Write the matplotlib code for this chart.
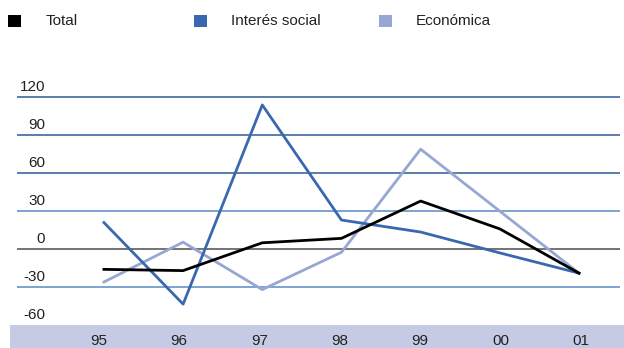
import numpy as np
import matplotlib
matplotlib.use("Agg")
import matplotlib.pyplot as plt
from matplotlib.patches import Rectangle

plt.rcParams['font.family'] = ['Liberation Sans', 'DejaVu Sans']

# ── data ───────────────────────────────────────────────────────────────────────
years = ['95', '96', '97', '98', '99', '00', '01']
total = [-16, -17, 5, 8.5, 38, 16, -19]
interes_social = [21, -43.5, 114, 23, 13.5, -3, -19]
economica = [-26, 5.5, -32, -2.5, 79, 30, -19]
y_ticks = [120, 90, 60, 30, 0, -30, -60]

C_TOTAL = "black"
C_SOCIAL = "#3a68b0"
C_ECON = "#97a6d3"
C_BAND = "#c5cbe4"
C_TEXT = "#222222"

W, H = 624, 348
fig = plt.figure(figsize=(W / 100, H / 100), dpi=100)

# axis band along the bottom (kept behind the axes)
fig.patches.append(Rectangle((10 / W, 0), 1 - 10 / W, 23 / H, transform=fig.transFigure,
                             facecolor=C_BAND, edgecolor="none", zorder=-1))

ax = fig.add_axes([17 / W, 1 - 325 / H, 603 / W, (325 - 84.7) / H])
ax.set_facecolor("none")
for s in ax.spines.values():
    s.set_visible(False)

x = np.arange(len(years))
ax.set_xlim(-1.098, 6.518)
ax.set_ylim(-60, 130)

# horizontal reference lines
grid_col = {120: "#2d5a96", 90: "#2d5a96", 60: "#2d5a96", 30: "#5b8ac6",
            0: "#4d4d4d", -30: "#5b8ac6"}
for v, c in grid_col.items():
    ax.axhline(v, color=c, linewidth=1.1, zorder=1)

ax.plot(x, economica, color=C_ECON, linewidth=2.0, zorder=3)
ax.plot(x, interes_social, color=C_SOCIAL, linewidth=2.0, zorder=4)
ax.plot(x, total, color=C_TOTAL, linewidth=2.0, zorder=5)
ax.set_xticks([])
ax.set_yticks([])

# year labels inside the band, on their own slightly wider category scale
ax_lab = ax.twiny()
for s in ax_lab.spines.values():
    s.set_visible(False)
ax_lab.set_xlim(-1.014, 6.485)
ax_lab.xaxis.set_ticks_position("bottom")
ax_lab.xaxis.set_label_position("bottom")
ax_lab.set_xticks(x)
ax_lab.set_xticklabels(years, fontsize=11, color=C_TEXT)
ax_lab.tick_params(axis="x", length=0, pad=6.5)

# y labels sit just above their lines
for v in y_ticks:
    ax.annotate(str(v), xy=(45 / W, v), xycoords=("figure fraction", "data"),
                xytext=(0, 2.5), textcoords="offset points",
                ha="right", va="bottom", fontsize=11, color=C_TEXT)

# legend row
items = [(8, 46, C_TOTAL, "Total"), (194, 231, C_SOCIAL, "Interés social"),
         (379, 416, C_ECON, "Económica")]
for sx, tx, col, lab in items:
    fig.patches.append(Rectangle((sx / W, 1 - 27 / H), 13 / W, 12 / H,
                                 transform=fig.transFigure, facecolor=col,
                                 edgecolor="none"))
    fig.text(tx / W, 1 - 21 / H, lab, ha="left", va="center", fontsize=11,
             color=C_TEXT)

fig.savefig("out.png", dpi=100)
